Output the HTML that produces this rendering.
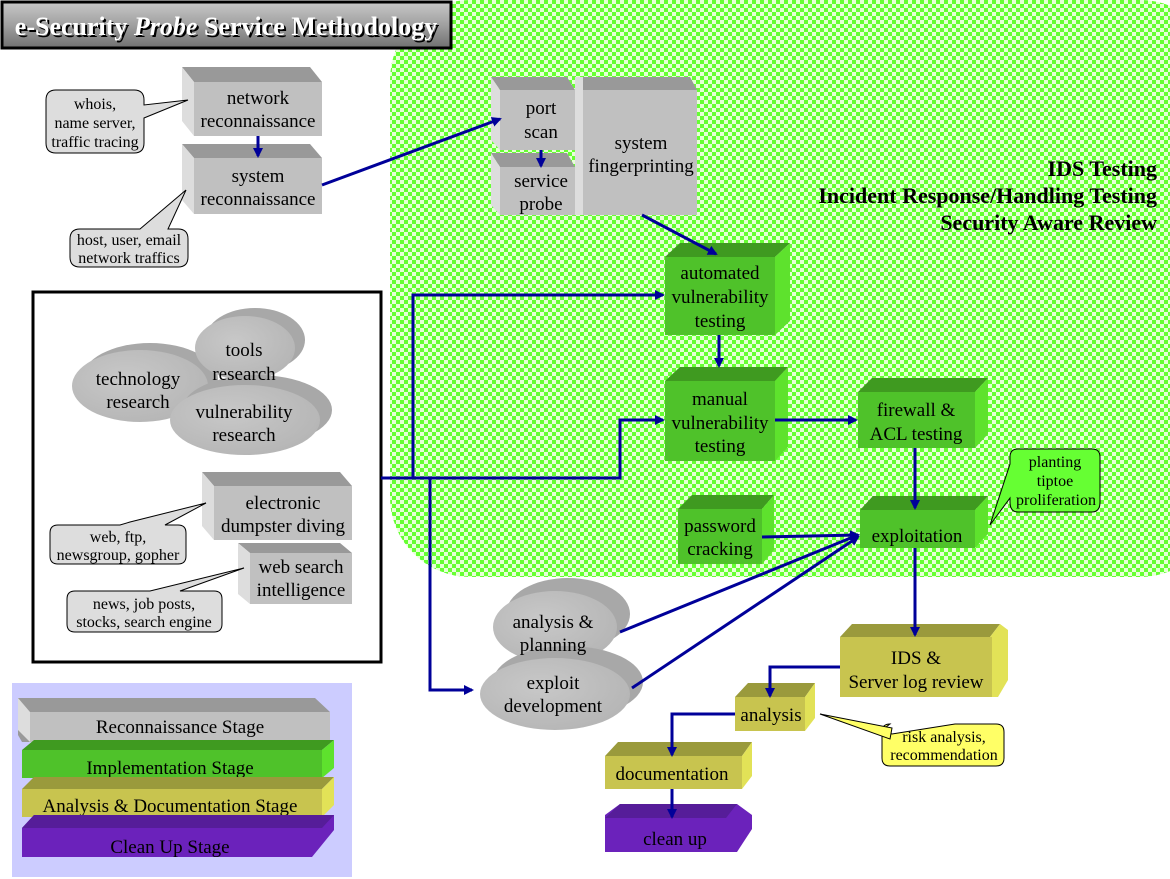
<!DOCTYPE html>
<html><head><meta charset="utf-8"><style>
body{margin:0;background:#fff}
svg{display:block}
text{font-family:"Liberation Serif",serif;font-size:19px;fill:#000}
.c{font-size:16px}
</style></head><body>
<svg width="1170" height="879" viewBox="0 0 1170 879" xmlns="http://www.w3.org/2000/svg">
<defs>
<pattern id="chk" width="8" height="8" patternUnits="userSpaceOnUse">
<rect width="8" height="8" fill="#e8ffd8"/>
<rect width="4" height="4" fill="#66ff33"/>
<rect x="4" y="4" width="4" height="4" fill="#66ff33"/>
</pattern>
<linearGradient id="tg" x1="0" y1="0" x2="0" y2="1">
<stop offset="0" stop-color="#c8c8c8"/><stop offset="0.5" stop-color="#a0a0a0"/><stop offset="1" stop-color="#707070"/>
</linearGradient>
<radialGradient id="eg" cx="0.4" cy="0.4" r="0.7">
<stop offset="0" stop-color="#c8c8c8"/><stop offset="1" stop-color="#b4b4b4"/>
</radialGradient>
<marker id="ar" markerWidth="10" markerHeight="10" refX="8" refY="5" orient="auto" markerUnits="userSpaceOnUse">
<path d="M0,0 L10,5 L0,10 z" fill="#000099"/>
</marker>
</defs>

<!-- green region -->
<rect x="390" y="0" width="830" height="577" rx="80" fill="url(#chk)"/>

<!-- title -->
<rect x="2" y="2" width="449" height="46" fill="url(#tg)" stroke="#000" stroke-width="3"/>
<text x="226" y="35" text-anchor="middle" style="font-size:26px;font-weight:bold;fill:#000" transform="translate(2,2)">e-Security <tspan font-style="italic">Probe</tspan> Service Methodology</text>
<text x="226" y="35" text-anchor="middle" style="font-size:26px;font-weight:bold;fill:#fff">e-Security <tspan font-style="italic">Probe</tspan> Service Methodology</text>

<!-- right labels -->
<text x="1157" y="176" text-anchor="end" style="font-size:22px;font-weight:bold">IDS Testing</text>
<text x="1157" y="203" text-anchor="end" style="font-size:22px;font-weight:bold">Incident Response/Handling Testing</text>
<text x="1157" y="230" text-anchor="end" style="font-size:22px;font-weight:bold">Security Aware Review</text>

<!-- gray boxes -->
<g>
<polygon points="182,67 310,67 322,82 194,82" fill="#999"/>
<polygon points="182,67 194,82 194,136 182,121" fill="#ddd"/>
<rect x="194" y="82" width="128" height="54" fill="#c0c0c0"/>
<text x="258" y="104" text-anchor="middle">network</text>
<text x="258" y="127" text-anchor="middle">reconnaissance</text>
<polygon points="182,144 310,144 322,158 194,158" fill="#999"/>
<polygon points="182,144 194,158 194,214 182,200" fill="#ddd"/>
<rect x="194" y="158" width="128" height="56" fill="#c0c0c0"/>
<text x="258" y="182" text-anchor="middle">system</text>
<text x="258" y="205" text-anchor="middle">reconnaissance</text>
<polygon points="575,77 690,77 697,90 583,90" fill="#999"/>
<rect x="575" y="77" width="8" height="138" fill="#ddd"/>
<rect x="583" y="90" width="114" height="125" fill="#c0c0c0"/>
<text x="641" y="149" text-anchor="middle">system</text>
<text x="641" y="172" text-anchor="middle">fingerprinting</text>
<polygon points="491,77 567,77 575,90 500,90" fill="#999"/>
<polygon points="491,77 500,90 500,150 491,140" fill="#ddd"/>
<rect x="500" y="90" width="75" height="60" fill="#c0c0c0"/>
<text x="541" y="114" text-anchor="middle">port</text>
<text x="541" y="138" text-anchor="middle">scan</text>
<polygon points="491,153 567,153 575,167 500,167" fill="#999"/>
<polygon points="491,153 500,167 500,215 491,205" fill="#ddd"/>
<rect x="500" y="167" width="75" height="48" fill="#c0c0c0"/>
<text x="541" y="187" text-anchor="middle">service</text>
<text x="541" y="210" text-anchor="middle">probe</text>
</g>

<!-- callouts top -->
<path d="M56,90 Q46,90 46,100 L46,143 Q46,153 56,153 L134,153 Q144,153 144,143 L144,118 L188,100 L144,105 L144,100 Q144,90 134,90 Z" fill="#ddd" stroke="#000"/>
<text x="95" y="109" text-anchor="middle" class="c">whois,</text>
<text x="95" y="128" text-anchor="middle" class="c">name server,</text>
<text x="95" y="147" text-anchor="middle" class="c">traffic tracing</text>
<path d="M80,229 Q70,229 70,239 L70,257 Q70,267 80,267 L178,267 Q188,267 188,257 L188,239 Q188,229 178,229 L168,229 L186,190 L140,229 Z" fill="#ddd" stroke="#000"/>
<text x="129" y="245" text-anchor="middle" class="c">host, user, email</text>
<text x="129" y="263" text-anchor="middle" class="c">network traffics</text>

<!-- left big box -->
<rect x="33" y="292" width="348" height="370" fill="#fff" stroke="#000" stroke-width="3"/>
<ellipse cx="150" cy="379" rx="68" ry="36" fill="#a8a8a8"/>
<ellipse cx="140" cy="386" rx="68" ry="36" fill="url(#eg)"/>
<ellipse cx="255" cy="340" rx="50" ry="32" fill="#a8a8a8"/>
<ellipse cx="245" cy="348" rx="50" ry="32" fill="url(#eg)"/>
<ellipse cx="257" cy="410" rx="75" ry="35" fill="#a8a8a8"/>
<ellipse cx="245" cy="420" rx="75" ry="35" fill="url(#eg)"/>
<text x="138" y="385" text-anchor="middle">technology</text>
<text x="138" y="408" text-anchor="middle">research</text>
<text x="244" y="356" text-anchor="middle">tools</text>
<text x="244" y="380" text-anchor="middle">research</text>
<text x="244" y="418" text-anchor="middle">vulnerability</text>
<text x="244" y="441" text-anchor="middle">research</text>
<polygon points="202,472 340,472 352,486 214,486" fill="#999"/>
<polygon points="202,472 214,486 214,540 202,526" fill="#ddd"/>
<rect x="214" y="486" width="138" height="54" fill="#c0c0c0"/>
<text x="283" y="509" text-anchor="middle">electronic</text>
<text x="283" y="532" text-anchor="middle">dumpster diving</text>
<polygon points="238,543 340,543 352,553 250,553" fill="#999"/>
<polygon points="238,543 250,553 250,604 238,594" fill="#ddd"/>
<rect x="250" y="553" width="102" height="51" fill="#c0c0c0"/>
<text x="301" y="573" text-anchor="middle">web search</text>
<text x="301" y="596" text-anchor="middle">intelligence</text>
<path d="M58,525 Q50,525 50,533 L50,556 Q50,564 58,564 L178,564 Q186,564 186,556 L186,533 Q186,525 178,525 L165,525 L206,503 L130,522 L120,525 Z" fill="#ddd" stroke="#000"/>
<text x="118" y="542" text-anchor="middle" class="c">web, ftp,</text>
<text x="118" y="560" text-anchor="middle" class="c">newsgroup, gopher</text>
<path d="M75,591 Q67,591 67,599 L67,624 Q67,632 75,632 L214,632 Q222,632 222,624 L222,599 Q222,591 214,591 L180,591 L244,568 L150,591 Z" fill="#ddd" stroke="#000"/>
<text x="144" y="609" text-anchor="middle" class="c">news, job posts,</text>
<text x="144" y="627" text-anchor="middle" class="c">stocks, search engine</text>

<!-- green boxes -->
<g>
<polygon points="665,257 680,243 790,243 775,257" fill="#3f9a20"/>
<polygon points="775,257 790,243 790,321 775,335" fill="#5ee22d"/>
<rect x="665" y="257" width="110" height="78" fill="#4fc22a"/>
<text x="720" y="279" text-anchor="middle">automated</text>
<text x="720" y="303" text-anchor="middle">vulnerability</text>
<text x="720" y="327" text-anchor="middle">testing</text>
<polygon points="665,381 680,367 788,367 775,381" fill="#3f9a20"/>
<polygon points="775,381 788,367 788,447 775,461" fill="#5ee22d"/>
<rect x="665" y="381" width="110" height="80" fill="#4fc22a"/>
<text x="720" y="405" text-anchor="middle">manual</text>
<text x="720" y="429" text-anchor="middle">vulnerability</text>
<text x="720" y="452" text-anchor="middle">testing</text>
<polygon points="858,392 872,378 988,378 975,392" fill="#3f9a20"/>
<polygon points="975,392 988,378 988,434 975,448" fill="#5ee22d"/>
<rect x="858" y="392" width="117" height="56" fill="#4fc22a"/>
<text x="916" y="416" text-anchor="middle">firewall &amp;</text>
<text x="916" y="440" text-anchor="middle">ACL testing</text>
<polygon points="678,509 692,495 774,495 762,509" fill="#3f9a20"/>
<polygon points="762,509 774,495 774,550 762,564" fill="#5ee22d"/>
<rect x="678" y="509" width="84" height="55" fill="#4fc22a"/>
<text x="720" y="532" text-anchor="middle">password</text>
<text x="720" y="555" text-anchor="middle">cracking</text>
<polygon points="860,510 873,496 988,496 975,510" fill="#3f9a20"/>
<polygon points="975,510 988,496 988,534 975,548" fill="#5ee22d"/>
<rect x="860" y="510" width="115" height="38" fill="#4fc22a"/>
<text x="917" y="542" text-anchor="middle">exploitation</text>
</g>
<path d="M1018,449 Q1010,449 1010,457 L1010,464 L990,525 L1010,498 L1010,502 Q1010,512 1018,512 L1092,512 Q1100,512 1100,502 L1100,457 Q1100,449 1092,449 Z" fill="#66ff33" stroke="#000"/>
<text x="1055" y="467" text-anchor="middle" class="c">planting</text>
<text x="1055" y="486" text-anchor="middle" class="c">tiptoe</text>
<text x="1056" y="505" text-anchor="middle" class="c">proliferation</text>

<!-- analysis ellipses -->
<ellipse cx="568" cy="614" rx="62" ry="36" fill="#a8a8a8"/>
<ellipse cx="555" cy="627" rx="62" ry="36" fill="url(#eg)"/>
<ellipse cx="568" cy="682" rx="75" ry="36" fill="#a8a8a8"/>
<ellipse cx="555" cy="694" rx="75" ry="36" fill="url(#eg)"/>
<text x="553" y="628" text-anchor="middle">analysis &amp;</text>
<text x="553" y="651" text-anchor="middle">planning</text>
<text x="553" y="689" text-anchor="middle">exploit</text>
<text x="553" y="712" text-anchor="middle">development</text>

<!-- yellow boxes -->
<polygon points="840,637 852,624 1000,624 990,637" fill="#9a9a3c"/>
<polygon points="990,637 1000,624 1008,630 1008,680 998,697 990,697" fill="#e2e257"/>
<rect x="840" y="637" width="152" height="60" fill="#c8c44f"/>
<text x="916" y="664" text-anchor="middle">IDS &amp;</text>
<text x="916" y="688" text-anchor="middle">Server log review</text>
<polygon points="735,697 748,683 815,683 805,697" fill="#9a9a3c"/>
<polygon points="805,697 815,683 815,718 805,731" fill="#e2e257"/>
<rect x="735" y="697" width="70" height="34" fill="#c8c44f"/>
<text x="771" y="721" text-anchor="middle">analysis</text>
<polygon points="605,756 618,742 752,742 742,756" fill="#9a9a3c"/>
<polygon points="742,756 752,742 752,776 742,789" fill="#e2e257"/>
<rect x="605" y="756" width="137" height="33" fill="#c8c44f"/>
<text x="672" y="780" text-anchor="middle">documentation</text>
<polygon points="605,815 620,804 737,804 752,815 752,829 737,852 605,852" fill="#6b22bb"/>
<polygon points="620,804 737,804 726,818 605,818" fill="#561d99"/>
<text x="675" y="845" text-anchor="middle">clean up</text>

<path d="M890,724 Q882,724 882,732 L882,758 Q882,766 890,766 L996,766 Q1004,766 1004,758 L1004,732 Q1004,724 996,724 L955,724 L892,734 L882,730 Z" fill="#ffff66" stroke="#000"/>
<polygon points="820,714 890,739 892,728" fill="#ffff66" stroke="#000"/>
<text x="944" y="742" text-anchor="middle" class="c">risk analysis,</text>
<text x="944" y="760" text-anchor="middle" class="c">recommendation</text>

<!-- legend -->
<rect x="12" y="683" width="340" height="194" fill="#ccccff"/>
<polygon points="18,698 315,698 330,712 330,742 22,742 18,735" fill="#999"/>
<polygon points="18,698 30,712 30,742 18,730" fill="#ddd"/>
<rect x="30" y="712" width="300" height="30" fill="#c0c0c0"/>
<text x="180" y="733" text-anchor="middle">Reconnaissance Stage</text>
<polygon points="22,750 34,740 334,740 322,750" fill="#3f9a20"/>
<polygon points="322,750 334,740 334,768 322,778" fill="#5ee22d"/>
<rect x="22" y="750" width="300" height="28" fill="#4fc22a"/>
<text x="170" y="774" text-anchor="middle">Implementation Stage</text>
<polygon points="22,789 34,777 334,777 322,789" fill="#9a9a3c"/>
<polygon points="322,789 334,777 334,805 322,817" fill="#e2e257"/>
<rect x="22" y="789" width="300" height="28" fill="#c8c44f"/>
<text x="170" y="812" text-anchor="middle">Analysis &amp; Documentation Stage</text>
<polygon points="22,828 34,815 334,815 334,830 312,857 22,857" fill="#6b22bb"/>
<polygon points="34,815 334,815 322,828 22,828" fill="#561d99"/>
<text x="170" y="853" text-anchor="middle">Clean Up Stage</text>

<!-- connectors -->
<g stroke="#000099" stroke-width="3" fill="none">
<line x1="258" y1="136" x2="258" y2="156" marker-end="url(#ar)"/>
<line x1="322" y1="185" x2="500" y2="119" marker-end="url(#ar)"/>
<line x1="541" y1="150" x2="541" y2="166" marker-end="url(#ar)"/>
<line x1="642" y1="215" x2="716" y2="254" marker-end="url(#ar)"/>
<polyline points="381,478 620,478 620,420 663,420" marker-end="url(#ar)"/>
<polyline points="413,478 413,295 663,295" marker-end="url(#ar)"/>
<polyline points="430,478 430,690 472,690" marker-end="url(#ar)"/>
<line x1="719" y1="335" x2="719" y2="366" marker-end="url(#ar)"/>
<line x1="775" y1="420" x2="856" y2="420" marker-end="url(#ar)"/>
<line x1="915" y1="448" x2="915" y2="508" marker-end="url(#ar)"/>
<line x1="762" y1="537" x2="858" y2="535" marker-end="url(#ar)"/>
<line x1="620" y1="632" x2="858" y2="535" marker-end="url(#ar)"/>
<line x1="632" y1="688" x2="858" y2="537" marker-end="url(#ar)"/>
<line x1="915" y1="548" x2="915" y2="635" marker-end="url(#ar)"/>
<polyline points="840,667 770,667 770,696" marker-end="url(#ar)"/>
<polyline points="735,714 672,714 672,755" marker-end="url(#ar)"/>
<line x1="672" y1="789" x2="672" y2="817" marker-end="url(#ar)"/>
</g>
</svg>
</body></html>
